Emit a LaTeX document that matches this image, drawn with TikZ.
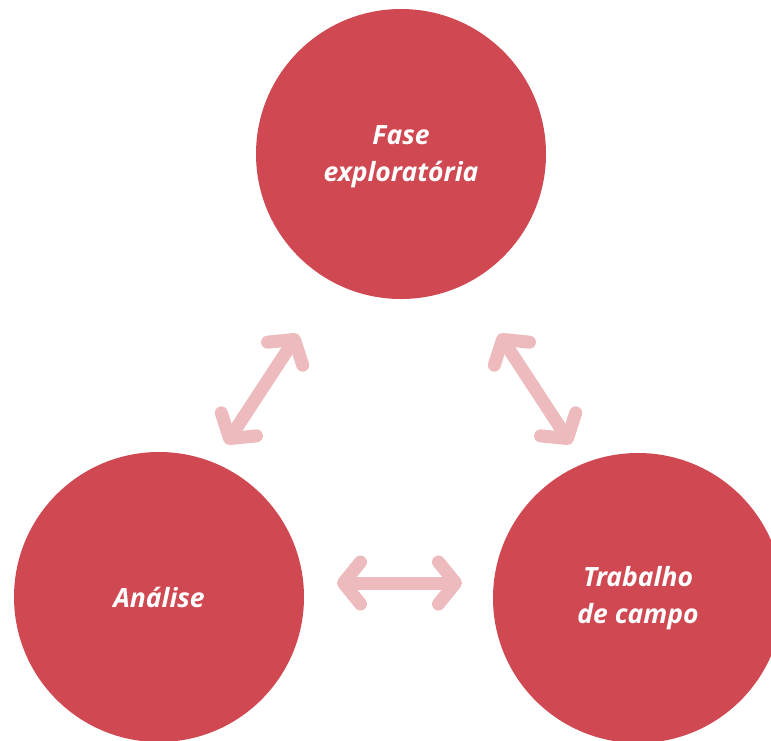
\documentclass[tikz,border=0pt]{standalone}
\usepackage{fontspec}
\setmainfont{Open Sans}
\usetikzlibrary{arrows.meta}
\definecolor{circred}{RGB}{208,73,82}
\definecolor{arrowpink}{RGB}{237,186,190}
\tikzset{
  stage/.style={circle, fill=circred, draw=none, minimum size=290pt, inner sep=0pt,
    text=white, align=center, font=\fontsize{26.5}{37}\selectfont\bfseries\itshape},
  link/.style={draw=arrowpink, line width=13pt, line cap=round,
    {Straight Barb[length=17pt, width=42pt, line cap=round, line join=round]}-{Straight Barb[length=17pt, width=42pt, line cap=round, line join=round]}}
}
\begin{document}
\begin{tikzpicture}[x=1pt,y=-1pt]
\useasboundingbox (0,0) rectangle (771,740);
\clip (0,0) rectangle (771,740);
\node[stage] (top) at (401,154) {};
\node[text=white, align=center, font=\fontsize{26.5}{37}\selectfont\bfseries\itshape] (toplabel) at (top.center) [yshift=-3pt] {Fase\\exploratória};
\node[stage] (left) at (159,597) {Análise};
\node[stage] (right) at (638,598) {Trabalho\\de campo};
\coordinate (l1) at (226,444);
\coordinate (l2) at (298,334);
\coordinate (r1) at (499,334);
\coordinate (r2) at (571,444);
\coordinate (h1) at (337,583);
\coordinate (h2) at (462,583);
\draw[link] (l1) -- (l2);
\draw[link] (r1) -- (r2);
\draw[link] (h1) -- (h2);
\end{tikzpicture}
\end{document}
